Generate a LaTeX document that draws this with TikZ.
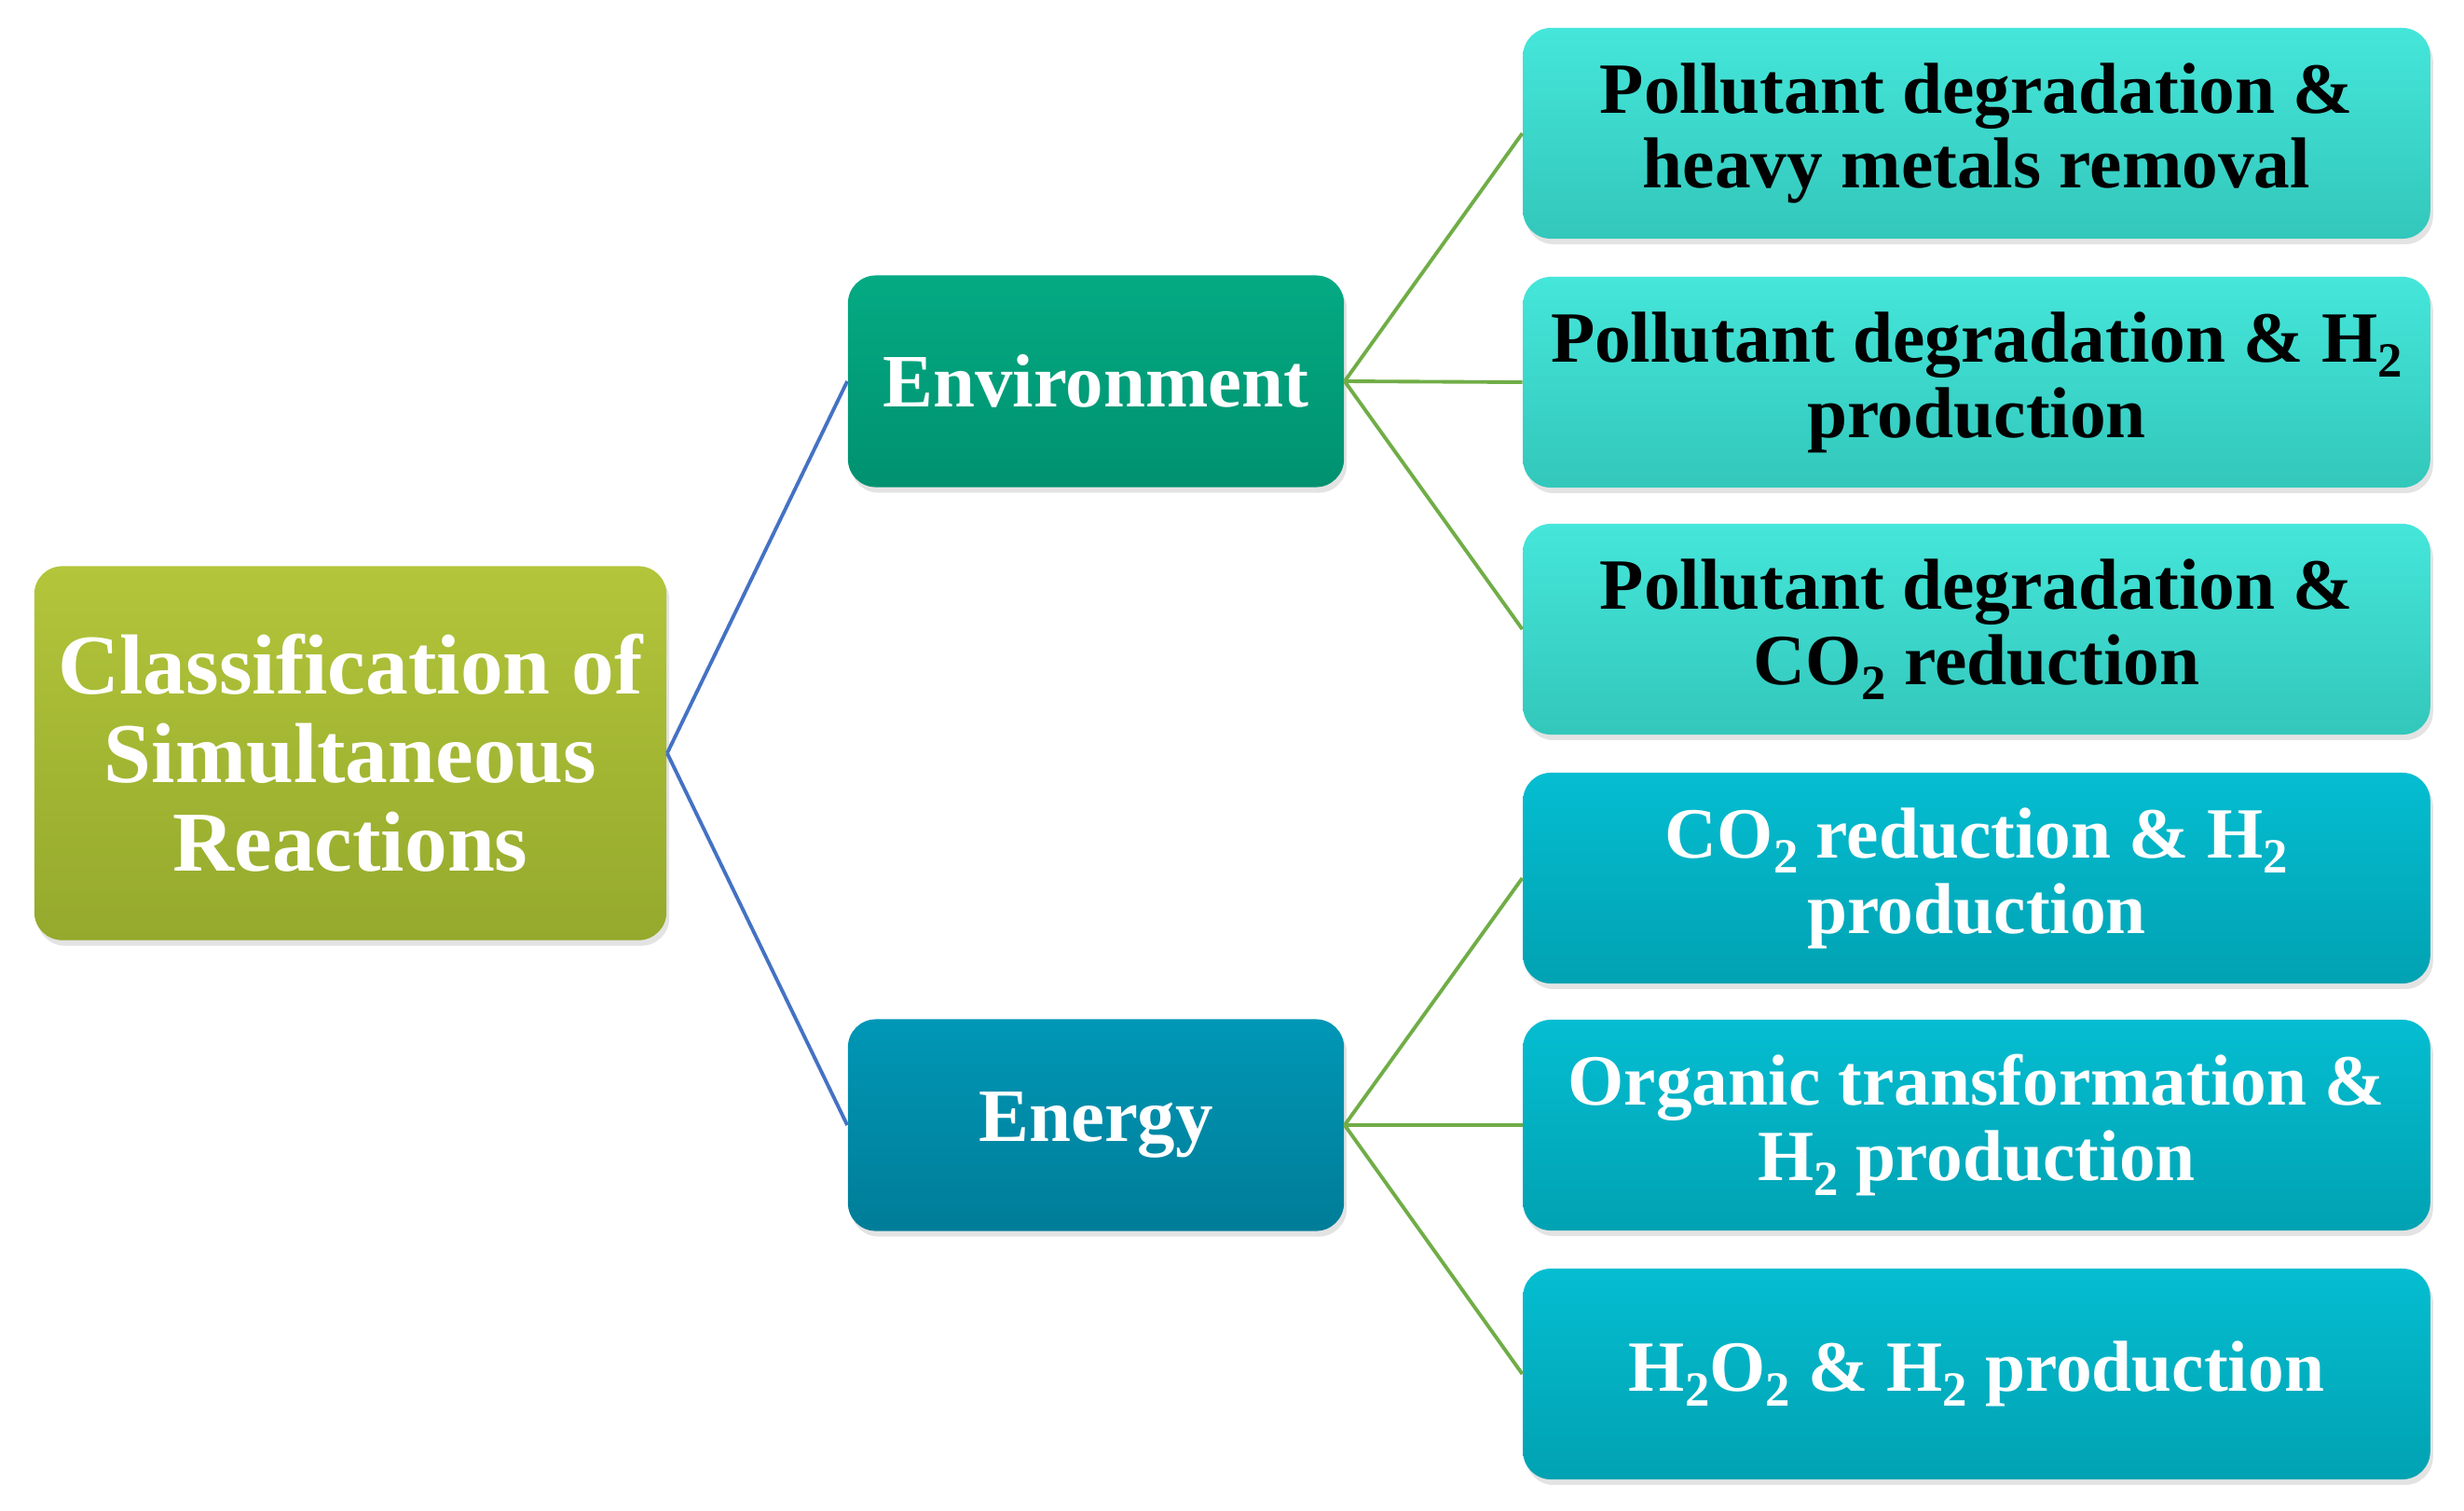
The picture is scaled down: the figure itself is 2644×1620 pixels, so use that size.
\documentclass[tikz,border=0pt]{standalone}
\usepackage{fontspec}
\setmainfont{Liberation Serif}
\usetikzlibrary{shadows}
\definecolor{rootTop}{HTML}{B3C53A}
\definecolor{rootBot}{HTML}{95A92D}
\definecolor{envTop}{HTML}{04AA83}
\definecolor{envBot}{HTML}{009170}
\definecolor{engTop}{HTML}{0097B6}
\definecolor{engBot}{HTML}{007D98}
\definecolor{envLeafTop}{HTML}{45E6DA}
\definecolor{envLeafBot}{HTML}{33C7BB}
\definecolor{engLeafTop}{HTML}{05BDD1}
\definecolor{engLeafBot}{HTML}{00A2B2}
\definecolor{blueLine}{HTML}{4472C4}
\definecolor{greenLine}{HTML}{70AD47}
\newcommand{\lowtwo}{\raisebox{-0.45ex}{\fontsize{15}{15}\selectfont 2}}

\begin{document}
\begin{tikzpicture}[x=0.01cm,y=-0.01cm,
	box/.style = {rounded corners=0.3cm,align=center,inner sep=0pt,font=\bfseries,
		drop shadow={opacity=0.22,shadow xshift=0.03cm,shadow yshift=-0.06cm}},
	rootbox/.style = {box,top color=rootTop,bottom color=rootBot,text=white,
		minimum width=6.78cm,minimum height=4.01cm,font=\bfseries\fontsize{26}{27}\selectfont},
	midbox/.style = {box,text=white,minimum width=5.32cm,minimum height=2.27cm,
		font=\bfseries\fontsize{23}{24}\selectfont},
	leafbox/.style = {box,minimum width=9.73cm,minimum height=2.26cm,
		font=\bfseries\fontsize{22}{23}\selectfont},
	envleaf/.style = {leafbox,top color=envLeafTop,bottom color=envLeafBot,text=black},
	engleaf/.style = {leafbox,top color=engLeafTop,bottom color=engLeafBot,text=white},
	trunk/.style = {draw=blueLine,line width=1.1pt},
	branch/.style = {draw=greenLine,line width=1.1pt}
	]
	\useasboundingbox (0,0) rectangle (2644,1620);
	%RADICE
	\node[rootbox] (root) at (376,808) {Classification of\\Simultaneous\\Reactions};
	%RAMI
	\node[midbox,top color=envTop,bottom color=envBot] (env) at (1176,409) {Environment};
	\node[midbox,top color=engTop,bottom color=engBot] (eng) at (1176,1207) {Energy};
	%FOGLIE AMBIENTE
	\node[envleaf] (pm) at (2121,143) {Pollutant degradation \&\\heavy metals removal};
	\node[envleaf] (ph) at (2121,410) {Pollutant degradation \& H\lowtwo\\production};
	\node[envleaf] (pc) at (2121,675) {Pollutant degradation \&\\CO\lowtwo{} reduction};
	%FOGLIE ENERGIA
	\node[engleaf] (ch) at (2121,942) {CO\lowtwo{} reduction \& H\lowtwo\\production};
	\node[engleaf] (oh) at (2121,1207) {Organic transformation \&\\H\lowtwo{} production};
	\node[engleaf] (hh) at (2121,1474) {H\lowtwo O\lowtwo{} \& H\lowtwo{} production};
	%COLLEGAMENTI
	\draw[trunk] (root.east) -- (env.west);
	\draw[trunk] (root.east) -- (eng.west);
	\foreach \leaf in {pm,ph,pc}
		\draw[branch] (env.east) -- (\leaf.west);
	\foreach \leaf in {ch,oh,hh}
		\draw[branch] (eng.east) -- (\leaf.west);
\end{tikzpicture}
\end{document}
